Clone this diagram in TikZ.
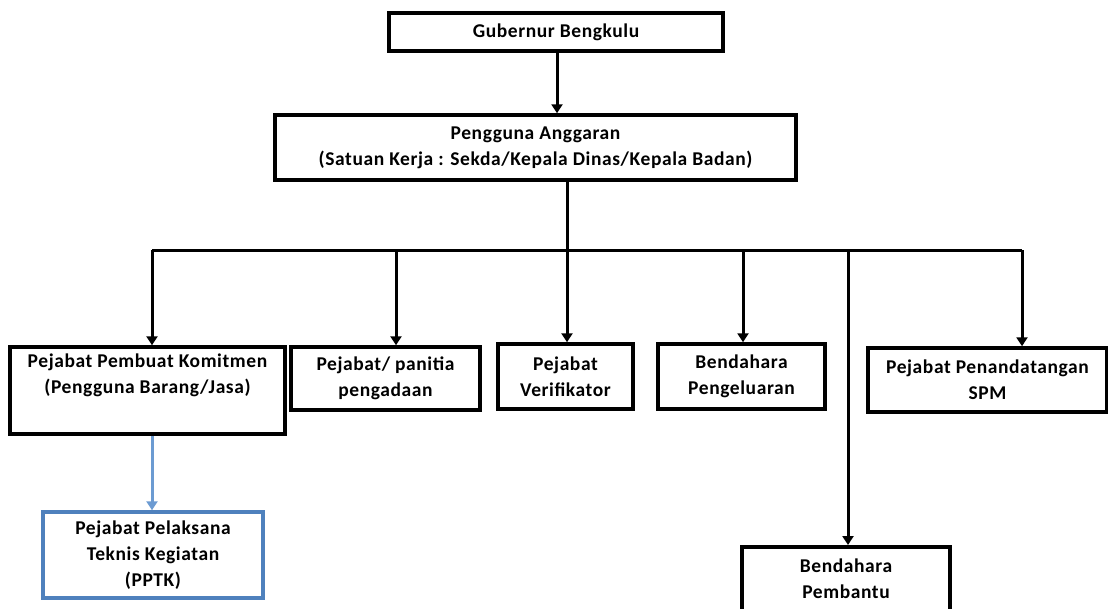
\documentclass[tikz,border=0pt]{standalone}
\usepackage{fontspec}
\setmainfont{Carlito}[LetterSpace=3]
\usetikzlibrary{arrows.meta}
\definecolor{boxblue}{HTML}{4F81BD}
\definecolor{arrblue}{HTML}{6C9BD2}
\tikzset{
  box/.style={draw=black, line width=3.5pt, fill=white, align=center, inner sep=0pt,
    font=\fontsize{19.5}{26}\selectfont\bfseries},
  bluebox/.style={box, draw=boxblue},
  conn/.style={line width=3pt, -{Triangle[width=11pt,length=9pt]}},
  bus/.style={line width=3pt},
  blueconn/.style={conn, draw=arrblue, -{Triangle[width=11pt,length=9pt,fill=arrblue]}},
}
\begin{document}
\begin{tikzpicture}[x=1pt,y=-1pt]
\useasboundingbox[fill=white] (0,0) rectangle (1108,608);
\node[box, minimum width=334pt, minimum height=38pt] (gub) at (556,32) {Gubernur Bengkulu};
\node[box, minimum width=521pt, minimum height=65pt] (peng) at (535.5,147.5)
  {Pengguna Anggaran\\(Satuan Kerja : Sekda/Kepala Dinas/Kepala Badan)};
\node[box, minimum width=275pt, minimum height=87pt] (ppk) at (147.5,390.5)
  {Pejabat Pembuat Komitmen\\(Pengguna Barang/Jasa)\\\strut};
\node[box, minimum width=189pt, minimum height=63pt] (pan) at (385.5,378.5)
  {Pejabat/ panitia\\pengadaan};
\node[box, minimum width=135pt, minimum height=65pt] (ver) at (565.5,376.5)
  {Pejabat\\Verifikator};
\node[box, minimum width=167pt, minimum height=65pt] (bpg) at (741.5,376.5)
  {Bendahara\\Pengeluaran};
\node[box, minimum width=239pt, minimum height=64pt] (spm) at (987.5,380)
  {Pejabat Penandatangan\\SPM};
\node[box, minimum width=208pt, minimum height=98pt, anchor=north] (bpb) at (846,545)
  {Bendahara\\Pembantu\\\strut};
\node[bluebox, minimum width=220pt, minimum height=86pt] (pptk) at (153,555)
  {Pejabat Pelaksana\\Teknis Kegiatan\\(PPTK)};
% connectors
\coordinate (g) at (557,51);
\draw[conn] (g) -- (g |- peng.north);
\coordinate (bus) at (567,250);
\coordinate (b1) at (152,250);
\coordinate (b2) at (396,250);
\coordinate (b4) at (743,250);
\coordinate (b5) at (848,250);
\coordinate (b6) at (1022,250);
\draw[bus] (bus |- peng.south) -- (bus);
\draw[bus] (b1) -- (b6);
\draw[conn] (b1) -- (b1 |- ppk.north);
\draw[conn] (b2) -- (b2 |- pan.north);
\draw[conn] (bus) -- (bus |- ver.north);
\draw[conn] (b4) -- (b4 |- bpg.north);
\draw[conn] (b5) -- (b5 |- bpb.north);
\draw[conn] (b6) -- (b6 |- spm.north);
\coordinate (p) at (152,435);
\draw[blueconn] (p |- ppk.south) -- (p |- pptk.north);
\end{tikzpicture}
\end{document}
